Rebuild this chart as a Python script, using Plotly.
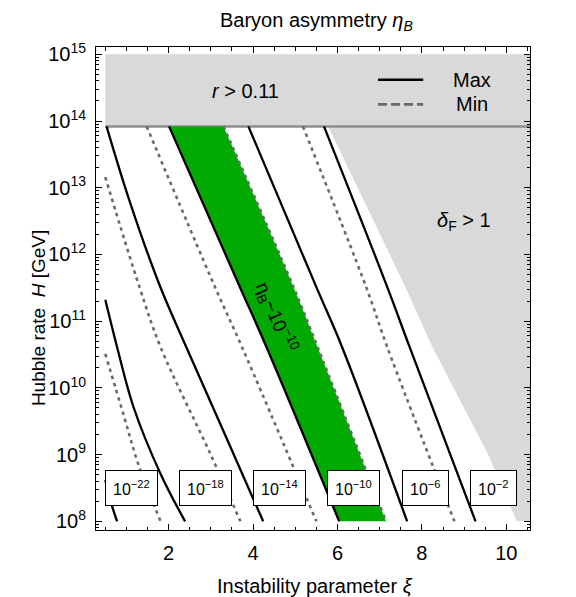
import plotly.graph_objects as go

# ---------------- data (xi, log10 H) ----------------
# eta_B = 1e-22
max22_xi = [0.50, 0.67, 0.78]
max22_lh = [8.62, 8.21, 8.00]
min22_xi = [0.50, 0.95, 1.28, 1.81]
min22_lh = [10.51, 9.56, 8.86, 8.00]
# eta_B = 1e-18
max18_xi = [0.50, 0.78, 1.17, 1.81, 2.39]
max18_lh = [11.32, 10.61, 9.71, 8.71, 8.00]
min18_xi = [0.50, 1.31, 1.81, 2.99, 3.70]
min18_lh = [13.16, 11.51, 10.61, 9.01, 8.00]
# eta_B = 1e-14
max14_xi = [0.53, 1.05, 1.78, 2.42, 3.30, 4.24]
max14_lh = [13.92, 12.85, 11.55, 10.61, 9.35, 8.00]
min14_xi = [1.48, 3.10, 3.74, 5.50]
# eta_B = 1e-10
max10_xi = [2.01, 3.69, 4.32, 6.04]
min10_xi = [3.30, 4.96, 5.53, 7.15]
# eta_B = 1e-6
max6_xi = [3.89, 5.50, 6.11, 7.65]
min6_xi = [5.18, 6.68, 7.18, 8.77]
# eta_B = 1e-2
max2_xi = [5.68, 7.18, 7.71, 9.27]
# common log10 H for the right-hand curves
common_lh = [13.92, 11.51, 10.61, 8.00]

# excluded regions
r_bound_lh = 13.92
top_band_xi = [0.5, 10.56, 10.56, 0.5]
top_band_lh = [13.92, 13.92, 15.0, 15.0]
dF_xi = [5.78, 7.61, 8.25, 9.57, 10.25, 10.56, 10.56]
dF_lh = [13.92, 11.51, 10.61, 9.00, 8.00, 8.00, 13.92]

# contour labels
box_labels = ["10<sup>−22</sup>", "10<sup>−18</sup>", "10<sup>−14</sup>",
              "10<sup>−10</sup>", "10<sup>−6</sup>", "10<sup>−2</sup>"]
box_xi = [1.12, 2.87, 4.63, 6.39, 8.08, 9.69]
box_lh = 8.50

x_ticks = [2, 4, 6, 8, 10]
y_exps = [8, 9, 10, 11, 12, 13, 14, 15]

FONT = "Liberation Sans, Arial, Helvetica, sans-serif"
GRAY_FILL = "#d9d9d9"
DASH_COL = "#6a6a6a"
GREEN = "#00aa00"


def H(lh):
    return [10 ** v for v in lh]


fig = go.Figure()

# excluded regions
fig.add_trace(go.Scatter(x=top_band_xi, y=H(top_band_lh), fill="toself",
                         fillcolor=GRAY_FILL, line=dict(width=0), mode="lines",
                         hoverinfo="skip"))
fig.add_trace(go.Scatter(x=dF_xi, y=H(dF_lh), fill="toself",
                         fillcolor=GRAY_FILL, line=dict(width=0), mode="lines",
                         hoverinfo="skip"))
fig.add_trace(go.Scatter(x=[0.5, 10.56], y=H([r_bound_lh, r_bound_lh]),
                         mode="lines", line=dict(color="#8c8c8c", width=2.5)))

# green band eta_B ~ 1e-10
fig.add_trace(go.Scatter(x=min10_xi, y=H(common_lh), mode="lines",
                         line=dict(width=0, shape="spline", smoothing=1)))
fig.add_trace(go.Scatter(x=max10_xi, y=H(common_lh), mode="lines",
                         fill="tonextx", fillcolor=GREEN,
                         line=dict(width=0, shape="spline", smoothing=1)))

solid = dict(color="black", width=2.3, shape="spline", smoothing=1)
dashed = dict(color=DASH_COL, width=2.6, dash="3.5px,4px", shape="spline", smoothing=1)

curves = [
    (max22_xi, max22_lh, solid), (min22_xi, min22_lh, dashed),
    (max18_xi, max18_lh, solid), (min18_xi, min18_lh, dashed),
    (max14_xi, max14_lh, solid), (min14_xi, common_lh, dashed),
    (max10_xi, common_lh, solid), (min10_xi, common_lh, dashed),
    (max6_xi, common_lh, solid), (min6_xi, common_lh, dashed),
    (max2_xi, common_lh, solid),
]
for xs, lh, st in curves:
    fig.add_trace(go.Scatter(x=xs, y=H(lh), mode="lines", line=st))

# legend (drawn inside the r > 0.11 band)
leg_x = [6.96, 8.03]
fig.add_trace(go.Scatter(x=leg_x, y=H([14.62, 14.62]), mode="lines",
                         line=dict(color="black", width=2.6)))
fig.add_trace(go.Scatter(x=leg_x, y=H([14.25, 14.25]), mode="lines",
                         line=dict(color=DASH_COL, width=2.8, dash="9px,4px")))

ann = []
ann.append(dict(x=9.18, y=14.62, text="Max", showarrow=False, font=dict(size=20)))
ann.append(dict(x=9.18, y=14.25, text="Min", showarrow=False, font=dict(size=20)))
ann.append(dict(x=3.82, y=14.45, text="<i>r</i> > 0.11", showarrow=False,
                font=dict(size=20)))
ann.append(dict(x=9.0, y=12.49, text="<i>δ</i><sub>F</sub> > 1", showarrow=False,
                font=dict(size=20)))
ann.append(dict(x=4.55, y=11.06, text="η<sub>B</sub>~10<sup>−10</sup>",
                showarrow=False, textangle=67, font=dict(size=19)))
for t, xv in zip(box_labels, box_xi):
    ann.append(dict(x=xv, y=box_lh, text=t, showarrow=False, bgcolor="white",
                    bordercolor="black", borderwidth=1, borderpad=7,
                    font=dict(size=16)))
# titles
ann.append(dict(x=0.507, y=1.052, xref="paper", yref="paper",
                text="Baryon asymmetry <i>η<sub>B</sub></i>", showarrow=False,
                font=dict(size=20), yanchor="middle"))
ann.append(dict(x=0.505, y=-0.116, xref="paper", yref="paper",
                text="Instability parameter <i>ξ</i>", showarrow=False,
                font=dict(size=20), yanchor="middle"))
ann.append(dict(x=-0.131, y=0.439, xref="paper", yref="paper",
                text="Hubble rate  <i>H</i> [GeV]", showarrow=False, textangle=-90,
                font=dict(size=19), xanchor="center", yanchor="middle"))

x_minor = [0.5 * k for k in range(1, 22)]
y_minor = [m * 10 ** e for e in range(7, 16) for m in range(2, 10)]

fig.update_layout(
    width=576, height=597,
    margin=dict(l=88, r=54, t=39, b=75),
    plot_bgcolor="white", paper_bgcolor="white",
    showlegend=False,
    font=dict(family=FONT, size=20, color="black"),
    annotations=ann,
    xaxis=dict(range=[0.28, 10.56], tickmode="array", tickvals=x_ticks,
               ticktext=[str(v) for v in x_ticks],
               ticks="inside", ticklen=6, tickwidth=1, tickcolor="black",
               showline=True, linecolor="black", linewidth=1, mirror="ticks",
               showgrid=False, zeroline=False, ticklabelstandoff=5,
               minor=dict(tickmode="array", tickvals=x_minor, ticks="inside",
                          ticklen=3.5, tickcolor="black", showgrid=False)),
    yaxis=dict(type="log", range=[7.87, 15.11], tickmode="array",
               tickvals=[10 ** e for e in y_exps],
               ticktext=["10<sup>%d</sup>" % e for e in y_exps],
               ticks="inside", ticklen=6, tickwidth=1, tickcolor="black",
               showline=True, linecolor="black", linewidth=1, mirror="ticks",
               showgrid=False, zeroline=False, ticklabelstandoff=5,
               minor=dict(tickmode="array", tickvals=y_minor, ticks="inside",
                          ticklen=3, tickcolor="black", showgrid=False)),
)

fig.write_html("out.html")
